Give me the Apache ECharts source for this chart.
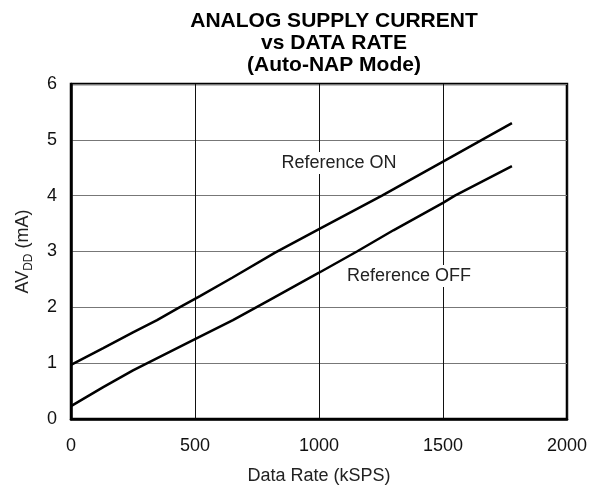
<!DOCTYPE html>
<html>
<head>
<meta charset="utf-8">
<script src="https://cdn.jsdelivr.net/npm/echarts@6/dist/echarts.min.js"></script>
<style>html,body{margin:0;padding:0;background:#fff}#c{width:590px;height:491px}</style>
</head>
<body>
<div id="c"></div>
<script>
const titleLines = ['ANALOG SUPPLY CURRENT', 'vs DATA RATE', '(Auto-NAP Mode)'];
const xTicks = [0, 500, 1000, 1500, 2000];
const yTicks = [0, 1, 2, 3, 4, 5, 6];
const refOnX = [0, 130, 250, 347, 430, 520, 650, 823, 1000, 1254, 1500, 1657, 1778];
const refOnY = [0.97, 1.27, 1.55, 1.77, 1.98, 2.20, 2.53, 2.98, 3.40, 4.0, 4.61, 5.0, 5.30];
const refOffX = [0, 130, 250, 500, 653, 800, 1000, 1153, 1300, 1500, 1548, 1778];
const refOffY = [0.23, 0.57, 0.87, 1.43, 1.77, 2.13, 2.62, 3.0, 3.38, 3.87, 4.0, 4.53];
const labelOn = {text: 'Reference ON', x: 1081, y: 4.585};
const labelOff = {text: 'Reference OFF', x: 1363, y: 2.56};

const font = '"Liberation Sans", Arial, Helvetica, sans-serif';
const chart = echarts.init(document.getElementById('c'));
function pairs(xs, ys) { return xs.map((x, i) => [x, ys[i]]); }
function textMark(l) {
  return {
    silent: true,
    symbol: 'rect', symbolSize: 0,
    data: [{coord: [l.x, l.y], value: l.text}],
    label: {
      show: true, position: 'inside', formatter: l.text,
      color: '#222', fontSize: 18, fontFamily: font,
      backgroundColor: '#fff', padding: [2, 3]
    }
  };
}
chart.setOption({
  animation: false,
  backgroundColor: '#fff',
  title: {
    text: titleLines.join('\n'),
    left: 329, textAlign: 'center', top: 5,
    textStyle: {fontFamily: font, fontSize: 21, fontWeight: 'bold', color: '#000', lineHeight: 22}
  },
  grid: {left: 71, right: 23, top: 84, bottom: 72, show: true, borderColor: '#000', borderWidth: 2.5, backgroundColor: 'transparent'},
  xAxis: {
    type: 'value', min: xTicks[0], max: xTicks[xTicks.length - 1], interval: 500,
    name: 'Data Rate (kSPS)', nameLocation: 'middle', nameGap: 48,
    nameTextStyle: {fontFamily: font, fontSize: 18, color: '#222'},
    axisLine: {show: true, lineStyle: {color: '#000', width: 2.5}},
    axisTick: {show: false},
    axisLabel: {fontFamily: font, fontSize: 18, color: '#111', margin: 18, formatter: v => String(v)},
    splitLine: {show: true, lineStyle: {color: '#111', width: 1}}
  },
  yAxis: {
    type: 'value', min: yTicks[0], max: yTicks[yTicks.length - 1], interval: 1,
    name: '{a|AV}{s|DD}{a| (mA)}', nameLocation: 'middle', nameGap: 36, nameRotate: 90,
    nameTextStyle: {
      fontFamily: font, fontSize: 18, color: '#222',
      rich: {
        a: {fontFamily: font, fontSize: 18, color: '#222', lineHeight: 24},
        s: {fontFamily: font, fontSize: 12, color: '#222', verticalAlign: 'bottom', lineHeight: 16, padding: [8, 0, 0, 0]}
      }
    },
    axisLine: {show: true, lineStyle: {color: '#000', width: 2.5}},
    axisTick: {show: false},
    axisLabel: {fontFamily: font, fontSize: 18, color: '#111', margin: 14},
    splitLine: {show: true, lineStyle: {color: '#777', width: 1}}
  },
  series: [
    {type: 'line', name: 'Reference ON', data: pairs(refOnX, refOnY), showSymbol: false, symbol: 'none',
     lineStyle: {color: '#000', width: 2.5}, z: 3, markPoint: textMark(labelOn)},
    {type: 'line', name: 'Reference OFF', data: pairs(refOffX, refOffY), showSymbol: false, symbol: 'none',
     lineStyle: {color: '#000', width: 2.5}, z: 3, markPoint: textMark(labelOff)}
  ]
});
</script>
</body>
</html>
